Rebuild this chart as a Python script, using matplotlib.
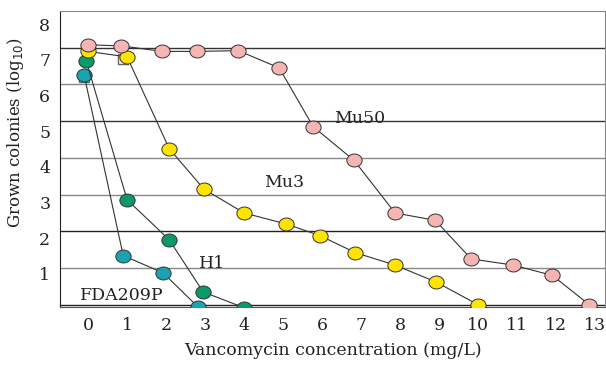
import numpy as np
import matplotlib
matplotlib.use("Agg")
import matplotlib.pyplot as plt
from matplotlib.path import Path
from matplotlib.transforms import Affine2D, ScaledTranslation

# data
mu50_x = [0.0, 0.85, 1.9, 2.8, 3.85, 4.9, 5.77, 6.82, 7.87, 8.9, 9.82, 10.9, 11.9, 12.85]
mu50_y = [7.08, 7.05, 6.9, 6.9, 6.92, 6.45, 4.85, 3.93, 2.5, 2.3, 1.25, 1.08, 0.8, 0.0]
mu3_x = [0.0, 1.0, 2.08, 2.97, 4.0, 5.08, 5.95, 6.85, 7.87, 8.92, 10.0]
mu3_y = [6.9, 6.75, 4.25, 3.15, 2.5, 2.2, 1.88, 1.42, 1.08, 0.62, 0.0]
h1_x = [-0.05, 1.0, 2.08, 2.95, 4.0]
h1_y = [6.65, 2.86, 1.77, 0.35, -0.08]
fda_x = [-0.1, 0.9, 1.92, 2.82]
fda_y = [6.25, 1.34, 0.87, -0.06]
# small hidden square markers visible behind the circles
sq_x = [-0.1, 0.9]
sq_y = [6.2, 6.7]

xticks = list(range(0, 14))
yticks = list(range(1, 9))
grid_cols = {1: "#888888", 2: "#222222", 3: "#888888", 4: "#888888",
             5: "#333333", 6: "#888888", 7: "#333333"}

plt.rcParams["font.family"] = ["DejaVu Serif"]
FS = 12.5

ell = Path.unit_circle().transformed(Affine2D().scale(1.18, 1.0))

fig = plt.figure(figsize=(6.06, 3.65), dpi=100)
ax = fig.add_axes([60 / 606, 1 - 307 / 365, 545 / 606, 296 / 365])

for y, c in grid_cols.items():
    ax.axhline(y, color=c, lw=1.0, zorder=0)
ax.axhline(0, color="#222222", lw=1.0, zorder=0)

ax.plot(sq_x, sq_y, ls="none", marker="s", ms=7, mfc="none", mec="#666666", mew=1, zorder=1)

def series(x, y, col):
    ax.plot(x, y, color="#333333", lw=0.8, marker=ell, ms=11,
            mfc=col, mec="#333333", mew=0.7, zorder=3)

series(fda_x, fda_y, "#1aa3b0")
series(h1_x, h1_y, "#0a9a6a")
series(mu3_x, mu3_y, "#ffe400")
series(mu50_x, mu50_y, "#f6b4b2")

ax.text(6.3, 4.95, "Mu50", fontsize=FS, color="#222222")
ax.text(4.5, 3.2, "Mu3", fontsize=FS, color="#222222")
ax.text(2.85, 1.0, "H1", fontsize=FS, color="#222222")
ax.text(-0.2, 0.12, "FDA209P", fontsize=FS, color="#222222")

ax.set_xlim(-0.72, 13.25)
ax.set_ylim(-0.06, 8.0)
ax.set_xticks(xticks)
ax.set_yticks(yticks)
ax.tick_params(length=0, labelsize=FS, colors="#222222")
ax.tick_params(axis="x", pad=7)
ax.tick_params(axis="y", pad=7)
# the y labels sit a little below their grid lines, more so at the top
for v, lab in zip(yticks, ax.get_yticklabels()):
    off = (4.5 + 1.1 * v) / 100
    lab.set_transform(lab.get_transform() + ScaledTranslation(0, -off, fig.dpi_scale_trans))

for s in ["top", "right"]:
    ax.spines[s].set_color("#888888")
ax.spines["left"].set_color("#222222")
ax.spines["bottom"].set_color("#555555")

ax.set_xlabel("Vancomycin concentration (mg/L)", fontsize=FS, color="#222222", labelpad=6)
ax.set_ylabel("Grown colonies (log$_{10}$)", fontsize=12, color="#222222")
ax.yaxis.set_label_coords(-0.062, 0.59)

fig.savefig("out.png", dpi=100)
